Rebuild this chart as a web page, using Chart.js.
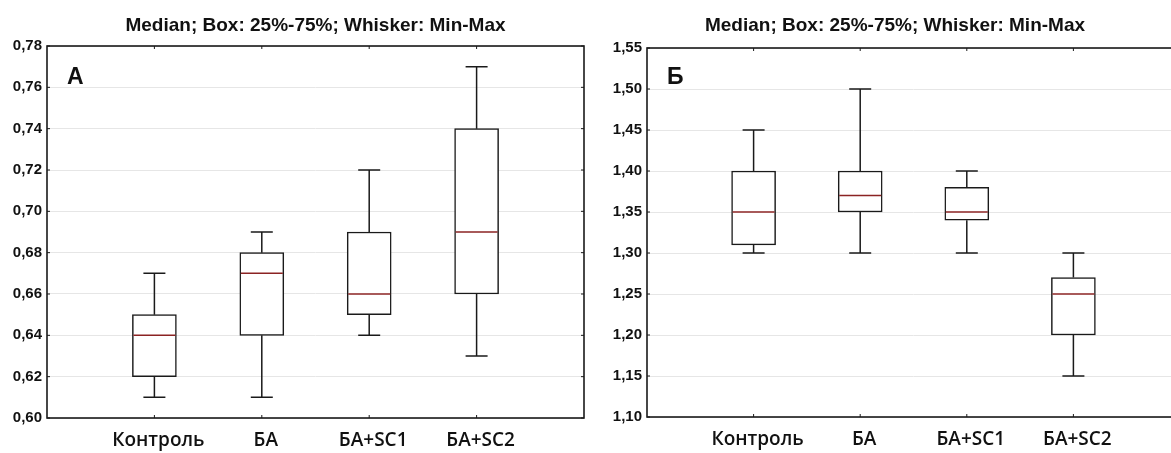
<!DOCTYPE html>
<html>
<head>
<meta charset="utf-8">
<script src="https://cdn.jsdelivr.net/npm/chart.js@4.4.1/dist/chart.umd.min.js"></script>
<style>
  html, body { margin: 0; padding: 0; background: #fff; overflow: hidden; width: 1171px; height: 453px; position: relative; }
  canvas { position: absolute; top: 0; }
</style>
</head>
<body>
<canvas id="chartA" width="590" height="453" style="left:0px"></canvas>
<canvas id="chartB" width="594" height="453" style="left:588px"></canvas>
<script>
const categories = ['Контроль', 'БА', 'БА+SC1', 'БА+SC2'];
const catPos = [1, 2, 3, 4];

// panel A
const yTicksA = [0.60, 0.62, 0.64, 0.66, 0.68, 0.70, 0.72, 0.74, 0.76, 0.78];
const minA = [0.61, 0.61, 0.64, 0.63];
const q1A  = [0.62, 0.64, 0.65, 0.66];
const medA = [0.64, 0.67, 0.66, 0.69];
const q3A  = [0.65, 0.68, 0.69, 0.74];
const maxA = [0.67, 0.69, 0.72, 0.77];

// panel B
const yTicksB = [1.10, 1.15, 1.20, 1.25, 1.30, 1.35, 1.40, 1.45, 1.50, 1.55];
const minB = [1.30, 1.30, 1.30, 1.15];
const q1B  = [1.31, 1.35, 1.34, 1.20];
const medB = [1.35, 1.37, 1.35, 1.25];
const q3B  = [1.40, 1.40, 1.38, 1.27];
const maxB = [1.45, 1.50, 1.40, 1.30];

const titleText = 'Median; Box: 25%-75%; Whisker: Min-Max';

function makeBoxChart(id, cfg) {
  const { yTicks, min, q1, med, q3, max, letter, padLeft, padRight, yWidth, titleBottom, titleFull, xHeight } = cfg;

  // whiskers, medians, frame and panel letter
  const boxExtras = {
    id: 'boxExtras',
    afterDatasetsDraw(chart) {
      const { ctx, chartArea: a, scales: { x, y } } = chart;
      ctx.save();
      ctx.strokeStyle = '#1a1a1a';
      ctx.lineWidth = 1.5;
      catPos.forEach((p, i) => {
        const px = x.getPixelForValue(p);
        ctx.beginPath();
        ctx.moveTo(px, y.getPixelForValue(max[i]));
        ctx.lineTo(px, y.getPixelForValue(q3[i]));
        ctx.moveTo(px, y.getPixelForValue(q1[i]));
        ctx.lineTo(px, y.getPixelForValue(min[i]));
        ctx.moveTo(px - 11, y.getPixelForValue(max[i]));
        ctx.lineTo(px + 11, y.getPixelForValue(max[i]));
        ctx.moveTo(px - 11, y.getPixelForValue(min[i]));
        ctx.lineTo(px + 11, y.getPixelForValue(min[i]));
        ctx.stroke();
      });
      ctx.strokeStyle = '#8b2323';
      ctx.lineWidth = 1.5;
      catPos.forEach((p, i) => {
        const px = x.getPixelForValue(p);
        const py = y.getPixelForValue(med[i]);
        ctx.beginPath();
        ctx.moveTo(px - 21, py);
        ctx.lineTo(px + 21, py);
        ctx.stroke();
      });
      // frame
      ctx.strokeStyle = '#1a1a1a';
      ctx.lineWidth = 1.6;
      ctx.strokeRect(a.left, a.top, a.right - a.left, a.bottom - a.top);
      // small inner tick marks
      ctx.lineWidth = 1;
      ctx.beginPath();
      yTicks.forEach(v => {
        const py = y.getPixelForValue(v);
        ctx.moveTo(a.left, py); ctx.lineTo(a.left + 3, py);
        ctx.moveTo(a.right, py); ctx.lineTo(a.right - 3, py);
      });
      catPos.forEach(p => {
        const px = x.getPixelForValue(p);
        ctx.moveTo(px, a.top); ctx.lineTo(px, a.top + 3);
        ctx.moveTo(px, a.bottom); ctx.lineTo(px, a.bottom - 3);
      });
      ctx.stroke();
      // panel letter
      ctx.fillStyle = '#111';
      ctx.font = 'bold 23px "Liberation Sans", Arial, sans-serif';
      ctx.textAlign = 'left';
      ctx.textBaseline = 'alphabetic';
      ctx.fillText(letter, a.left + 20, 84);
      ctx.restore();
    }
  };

  return new Chart(document.getElementById(id), {
    type: 'bar',
    data: {
      datasets: [{
        data: catPos.map((p, i) => ({ x: p, y: [q1[i], q3[i]] })),
        backgroundColor: '#ffffff',
        borderColor: '#1a1a1a',
        borderWidth: 1.5,
        borderSkipped: false,
        barThickness: 44
      }]
    },
    options: {
      responsive: false,
      animation: false,
      layout: { padding: { left: padLeft, right: padRight, top: 0, bottom: 0 } },
      plugins: {
        legend: { display: false },
        tooltip: { enabled: false },
        title: {
          display: true,
          fullSize: titleFull,
          text: titleText,
          color: '#111',
          font: { family: '"Liberation Sans", Arial, sans-serif', size: 19, weight: 'bold', lineHeight: 1.2 },
          padding: { top: 14.6, bottom: titleBottom }
        }
      },
      scales: {
        x: {
          type: 'linear',
          min: 0,
          max: 5,
          offset: false,
          afterBuildTicks: s => { s.ticks = catPos.map(v => ({ value: v })); },
          afterFit: s => { s.height = xHeight; },
          grid: { display: false, drawTicks: false },
          border: { display: false },
          ticks: {
            autoSkip: false,
            maxRotation: 0,
            padding: 11,
            labelOffset: 4,
            color: '#111',
            font: { family: '"Open Sans", "Noto Sans", sans-serif', size: 19, weight: '600' },
            callback: v => categories[catPos.indexOf(v)] ?? ''
          }
        },
        y: {
          min: yTicks[0],
          max: yTicks[yTicks.length - 1],
          afterBuildTicks: s => { s.ticks = yTicks.map(v => ({ value: v })); },
          afterFit: s => { s.width = yWidth; },
          grid: { color: '#e6e6e6', lineWidth: 1, drawTicks: false },
          border: { display: false },
          ticks: {
            padding: 5,
            color: '#111',
            font: { family: '"Liberation Sans", Arial, sans-serif', size: 15, weight: 'bold' },
            callback: v => v.toFixed(2).replace('.', ',')
          }
        }
      }
    },
    plugins: [boxExtras]
  });
}

makeBoxChart('chartA', {
  yTicks: yTicksA, min: minA, q1: q1A, med: medA, q3: q3A, max: maxA,
  letter: 'А', padLeft: 7, padRight: 6, yWidth: 40, titleBottom: 8.6, titleFull: false, xHeight: 35
});

makeBoxChart('chartB', {
  yTicks: yTicksB, min: minB, q1: q1B, med: medB, q3: q3B, max: maxB,
  letter: 'Б', padLeft: 22, padRight: 2, yWidth: 37, titleBottom: 10.6, titleFull: true, xHeight: 36
});
</script>
</body>
</html>
